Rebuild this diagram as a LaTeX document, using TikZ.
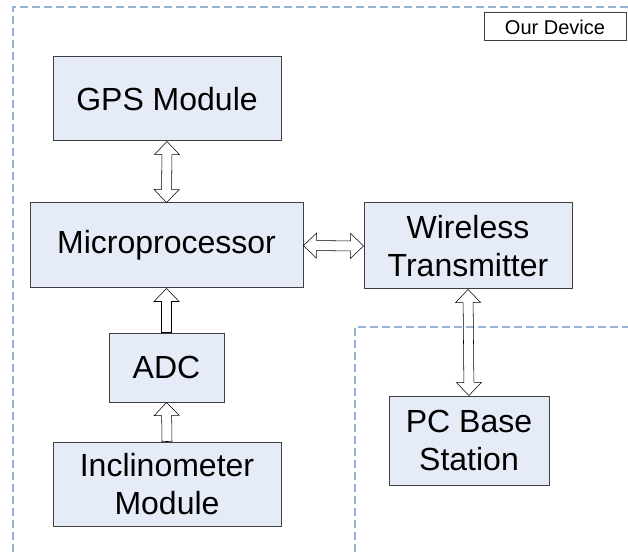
\documentclass[tikz,border=0pt]{standalone}
\usepackage{fontspec}
\setmainfont{Liberation Sans}
\usetikzlibrary{calc}
\definecolor{boxfill}{HTML}{E6ECF7}
\definecolor{boundblue}{HTML}{95B3D7}
\definecolor{edgegray}{HTML}{404040}
\tikzset{
	blocknode/.style={rectangle, draw=edgegray, fill=boxfill, line width=0.75pt, align=center, inner sep=0pt, font=\fontsize{24}{28.5}\selectfont},
	taglabel/.style={rectangle, draw=edgegray, fill=white, line width=0.75pt, inner sep=0pt, font=\fontsize{15}{18}\selectfont},
	boundline/.style={boundblue, line width=1.5pt, dash pattern=on 6pt off 3pt},
	fatarrow/.style={draw=edgegray, fill=boxfill, line width=0.75pt, line join=miter},
	% block arrow, head at the target only
	fatone/.style={fatarrow, to path={let \p1=($(\tikztotarget)!9.75pt!(\tikztostart)$) in
		-- ($(\tikztostart)!3.75pt!90:(\tikztotarget)$)
		-- ($(\p1)!3.75pt!90:(\tikztotarget)$)
		-- ($(\p1)!9.4pt!90:(\tikztotarget)$)
		-- (\tikztotarget)
		-- ($(\p1)!9.4pt!-90:(\tikztotarget)$)
		-- ($(\p1)!3.75pt!-90:(\tikztotarget)$)
		-- ($(\tikztostart)!3.75pt!-90:(\tikztotarget)$)
		-- cycle}},
	% block arrow, heads at both ends
	fatboth/.style={fatarrow, to path={let \p1=($(\tikztostart)!9.75pt!(\tikztotarget)$), \p2=($(\tikztotarget)!9.75pt!(\tikztostart)$) in
		-- ($(\p1)!9.4pt!90:(\tikztotarget)$)
		-- ($(\p1)!3.75pt!90:(\tikztotarget)$)
		-- ($(\p2)!3.75pt!90:(\tikztotarget)$)
		-- ($(\p2)!9.4pt!90:(\tikztotarget)$)
		-- (\tikztotarget)
		-- ($(\p2)!9.4pt!-90:(\tikztotarget)$)
		-- ($(\p2)!3.75pt!-90:(\tikztotarget)$)
		-- ($(\p1)!3.75pt!-90:(\tikztotarget)$)
		-- ($(\p1)!9.4pt!-90:(\tikztotarget)$)
		-- cycle}}
}
\begin{document}
\begin{tikzpicture}[x=0.75pt,y=-0.75pt]
	\useasboundingbox (0,0) rectangle (628,552);
	% device and base station borders
	\draw[boundline] (13,552) -- (13,7) -- (628,7);
	\draw[boundline] (355,552) -- (355,327) -- (628,327);
	\node[taglabel, minimum width=106.5pt, minimum height=21pt] (tag) at (555,27) {Our Device};
	\node[blocknode, minimum width=171pt, minimum height=63pt] (gps) at (167,99) {GPS Module};
	\node[blocknode, minimum width=204.75pt, minimum height=63.75pt] (micro) at (166.5,245.5) {Microprocessor};
	\node[blocknode, minimum width=156pt, minimum height=64.5pt] (wireless) at (468,246) {Wireless\\Transmitter};
	\node[blocknode, minimum width=86.25pt, minimum height=51.75pt] (adc) at (166.5,367.5) {ADC};
	\node[blocknode, minimum width=171pt, minimum height=63pt] (inclino) at (167,484) {Inclinometer\\Module};
	\node[blocknode, minimum width=120pt, minimum height=66.75pt] (pcbase) at (469,440.5) {PC Base\\Station};
	\draw (gps.south) to[fatboth] (micro.north);
	\draw (micro.east) to[fatboth] (wireless.west);
	\draw (adc.north) to[fatone] (micro.south);
	\draw (inclino.north) to[fatone] (adc.south);
	\draw (wireless.south) to[fatboth] (pcbase.north);
\end{tikzpicture}
\end{document}
